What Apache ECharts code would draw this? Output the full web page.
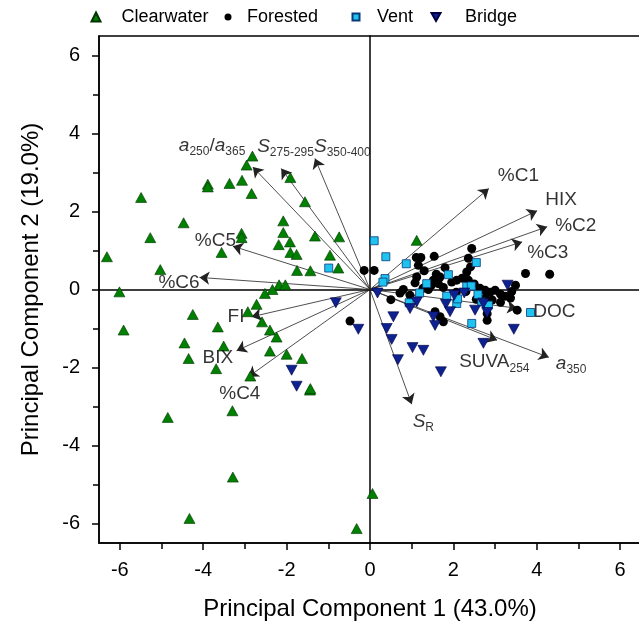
<!DOCTYPE html>
<html><head><meta charset="utf-8">
<script src="https://cdn.jsdelivr.net/npm/echarts@6/dist/echarts.min.js"></script>
<style>html,body{margin:0;padding:0;background:#fff}#c{width:639px;height:625px}</style>
</head><body><div id="c"></div>
<script>
// ---- data (PC1, PC2 scores) ----
const clearwater = [
 [-2.82,3.42],[-2.96,3.19],[-3.89,2.70],[-3.89,2.63],[-3.37,2.72],[-3.07,2.80],[-2.84,2.46],[-5.49,2.36],
 [-1.91,2.87],[-1.56,2.25],[-4.47,1.71],[-5.27,1.33],[-2.08,1.76],[-2.08,1.46],[-3.08,1.44],[-3.08,1.33],
 [-1.32,1.37],[-0.74,1.35],[-1.92,1.22],[-2.19,1.15],[-3.56,0.95],[-6.31,0.84],[-1.91,0.95],[-1.76,0.90],
 [-0.96,0.88],[-5.03,0.51],[-1.75,0.49],[-1.43,0.48],[-0.76,0.55],[-6.01,-0.06],[-2.18,0.12],[-2.03,0.12],
 [-2.34,0.00],[-2.52,-0.10],[-2.72,-0.38],[-4.25,-0.64],[-2.93,-0.57],[1.12,1.26],[-2.59,-0.83],[-5.91,-1.04],
 [-3.65,-0.96],[-2.40,-1.04],[-2.24,-1.22],[-4.45,-1.37],[-3.51,-1.45],[-4.35,-1.77],[-2.40,-1.58],[-2.00,-1.66],
 [-1.63,-1.77],[-3.69,-2.03],[-2.87,-2.22],[-1.44,-2.58],[-1.43,-2.54],[-3.30,-3.11],[-4.85,-3.28],[-3.29,-4.81],
 [-4.33,-5.87],[-0.32,-6.13],[0.06,-5.23]
];
const forested = [
 [-0.14,0.49],[0.10,0.49],[-0.48,-0.81],
 [1.11,0.82],[1.22,0.82],[1.54,0.85],[1.16,0.62],[1.30,0.48],[1.80,0.56],[2.44,1.05],[2.41,0.58],[2.36,0.80],
 [2.32,0.45],[3.73,0.41],[4.31,0.39],[1.59,0.39],[1.68,0.32],[1.64,0.15],[1.52,0.24],[1.12,0.32],[1.08,0.17],
 [1.40,0.00],[0.80,0.00],[0.72,-0.09],[0.50,-0.26],[1.27,0.03],[1.47,0.11],[1.76,0.05],[1.96,0.19],[2.08,0.24],
 [2.21,0.29],[2.36,0.24],[2.50,0.14],[2.64,0.03],[2.76,-0.02],[2.88,-0.07],[3.00,-0.02],[3.13,-0.12],[3.25,-0.17],
 [3.37,-0.22],[3.49,0.11],[2.76,-0.22],[2.93,-0.27],[3.13,-0.33],[1.56,-0.57],[1.68,-0.70],[1.76,-0.83],
 [2.81,-0.62],[2.81,-0.79],[3.53,-0.53],[2.07,-0.07],[0.96,-0.15],[2.30,-0.05],[2.55,-0.25],[3.40,-0.05]
];
const vent = [
 [0.10,1.25],[0.38,0.84],[0.87,0.66],[0.36,0.28],[0.31,0.19],[-0.99,0.55],[2.55,0.69],[1.88,0.38],[1.36,0.15],
 [1.19,-0.09],[0.94,-0.34],[1.84,-0.17],[2.08,-0.36],[2.32,0.08],[2.43,0.09],[2.59,-0.13],[2.68,-0.32],
 [2.84,-0.40],[2.44,-0.87],[3.85,-0.59],[2.10,-0.24]
];
const bridge = [
 [-0.82,-0.34],[-0.28,-1.02],[0.18,-0.09],[1.12,-0.32],[0.96,-0.49],[0.56,-0.70],[0.40,-1.00],[0.52,-1.28],
 [1.02,-1.49],[1.28,-1.56],[0.67,-1.80],[1.70,-2.11],[1.52,-0.70],[1.56,-0.92],[1.82,-0.38],[1.92,-0.57],
 [2.02,-0.15],[2.26,-0.09],[2.52,-0.53],[2.72,-1.38],[2.81,-0.59],[2.72,-0.36],[3.45,-1.02],[3.30,0.11],
 [-1.88,-2.07],[-1.76,-2.48]
];
// ---- loadings (arrow tips) ----
const loadingNames = ['a250/a365','S275-295','S350-400','%C5','%C6','FI','BIX','%C4','%C1','HIX','%C2','%C3','DOC','SUVA254','a350','SR'];
const loadingX = [-2.81,-2.13,-1.32,-3.29,-4.09,-2.84,-3.20,-2.92,2.85,4.01,4.25,3.65,3.53,3.05,4.29,1.00];
const loadingY = [3.14,3.10,3.36,1.11,0.31,-0.70,-1.57,-2.24,2.59,2.02,1.61,1.22,-0.48,-1.30,-1.74,-2.94];
// ---- ticks ----
const majorTicks = [-6,-4,-2,0,2,4,6];
const minorTicks = [-5,-3,-1,1,3,5];
const groupNames = ['Clearwater','Forested','Vent','Bridge'];

// ---- presentation ----
const FONT = 'Liberation Sans, Arial, sans-serif';
const richText = {
 'a250/a365':'{i|a}{s|250}{n|/}{i|a}{s|365}', 'S275-295':'{i|S}{s|275-295}', 'S350-400':'{i|S}{s|350-400}',
 'SUVA254':'{n|SUVA}{s|254}', 'a350':'{i|a}{s|350}', 'SR':'{i|S}{s|R}'
};
const labelOffsets = [[-74,-21],[-24,-22],[-1,-12],[-38,-5],[-41,5],[-24,0],[-34,7],[-29,17],
 [9,-13],[8,-11],[8,-1],[5,11],[16,4],[-38,22],[7,6],[1,18]];

const chart = echarts.init(document.getElementById('c'), null, {renderer:'canvas'});
const axisLineStyle = {color:'#000', width:1.5};
function mkAxes(dim){
 const isX = dim==='x';
 return [
  {type:'value', min:-6.5, max:6.5, position: isX?'bottom':'left',
   axisLine:{show:true,onZero:false,lineStyle:axisLineStyle},
   axisTick:{show:true,customValues:majorTicks,length:7,lineStyle:axisLineStyle},
   axisLabel:{customValues:majorTicks,fontSize:20,fontFamily:FONT,color:'#000',margin:isX?17:19},
   splitLine:{show:false},
   name: isX?'Principal Component 1 (43.0%)':'Principal Component 2 (19.0%)',
   nameLocation:'middle', nameGap: isX?54:56,
   nameTextStyle:{fontSize:24,fontFamily:FONT,color:'#000'}},
  {type:'value', min:-6.5, max:6.5, position: isX?'bottom':'left',
   axisLine:{show:false,onZero:false},
   axisTick:{show:true,customValues:minorTicks,length:6,lineStyle:axisLineStyle},
   axisLabel:{show:false}, splitLine:{show:false}},
  {type:'value', min:-6.5, max:6.5,
   axisLine:{show:true,onZero:true,lineStyle:axisLineStyle},
   axisTick:{show:false}, axisLabel:{show:false}, splitLine:{show:false}}
 ];
}
// legend placement: icon left edge, icon size, extra text padding, icon shape
const legendLayout = [
 {left:90.5, w:9, h:9, pad:16, icon:'triangle'},{left:224.5, w:7, h:7, pad:10.5, icon:'circle'},
 {left:351.5, w:7, h:7, pad:12.5, icon:'rect'},{left:430.5, w:9, h:9, pad:19.5, icon:'path://M0,0L10,0L5,9Z'}
];
const option = {
 animation:false,
 backgroundColor:'#fff',
 grid:{left:99, right:-2, top:36, bottom:82, show:true, borderColor:'#000', borderWidth:1.5, containLabel:false, outerBoundsMode:'none'},
 xAxis: mkAxes('x'),
 yAxis: mkAxes('y'),
 legend: groupNames.map((g,i)=>({
  data:[{name:g, icon:legendLayout[i].icon}], left:legendLayout[i].left, top:8, padding:0, symbolKeepAspect:true,
  itemWidth:legendLayout[i].w, itemHeight:legendLayout[i].h, itemGap:0,
  textStyle:{fontSize:18, fontFamily:FONT, color:'#000', padding:[0,0,0,legendLayout[i].pad]}
 })),
 series:[
  {type:'lines', coordinateSystem:'cartesian2d', silent:true, z:2,
   data: loadingNames.map((n,i)=>({coords:[[0,0],[loadingX[i],loadingY[i]]]})),
   symbol:['none','arrow'], symbolSize:[0,10],
   lineStyle:{color:'#222', width:0.8, opacity:1}},
  {name:'Clearwater', type:'scatter', data:clearwater, symbol:'triangle', symbolSize:[11,10], z:5,
   itemStyle:{color:'#008000', borderColor:'#003300', borderWidth:0.6, opacity:1}},
  {name:'Forested', type:'scatter', data:forested, symbol:'circle', symbolSize:9, z:3,
   itemStyle:{color:'#000', opacity:1}},
  {name:'Vent', type:'scatter', data:vent, symbol:'rect', symbolSize:8, z:4,
   itemStyle:{color:'#1ec3f0', borderColor:'#0a3a7a', borderWidth:0.8, opacity:1}},
  {name:'Bridge', type:'scatter', data:bridge, symbol:'triangle', symbolRotate:180, symbolSize:[11,10], z:4,
   itemStyle:{color:'#0d2190', borderColor:'#000040', borderWidth:0.6, opacity:1}},
  {type:'scatter', silent:true, z:6, symbolSize:0,
   data: loadingNames.map((n,i)=>({value:[loadingX[i],loadingY[i]],
     label:{show:true, position:[0,0], offset:labelOffsets[i], align:'left', verticalAlign:'middle', color:'#000',
      formatter: richText[n] || ('{n|'+n+'}')}})),
   label:{color:'#000', textBorderWidth:0, rich:{
     n:{fontSize:19, fontFamily:FONT, color:'#000', lineHeight:24, verticalAlign:'middle', textBorderWidth:0},
     i:{fontSize:19, fontFamily:FONT, fontStyle:'italic', color:'#000', lineHeight:24, verticalAlign:'middle', textBorderWidth:0},
     s:{fontSize:12, fontFamily:FONT, color:'#000', lineHeight:9, verticalAlign:'bottom', textBorderWidth:0}
   }}}
 ]
};
chart.setOption(option);
</script></body></html>
